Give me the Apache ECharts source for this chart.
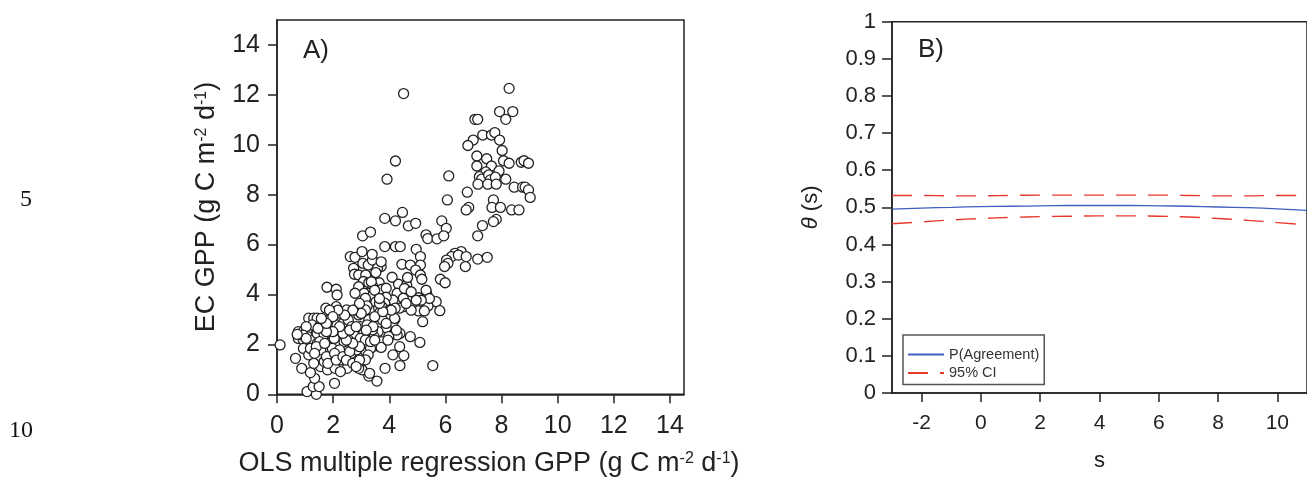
<!DOCTYPE html>
<html><head><meta charset="utf-8">
<script src="https://cdn.jsdelivr.net/npm/echarts@6/dist/echarts.min.js"></script>
<style>html,body{margin:0;padding:0;background:#fff}#c{width:1307px;height:477px}</style>
</head><body><div id="c"></div>
<script>
// Panel A: OLS multiple regression GPP (x) vs EC GPP (y)
const olsGPP = [
8.27,4.51,7.93,8.40,8.15,7.05,7.15,7.33,7.64,7.76,6.99,6.80,7.93,8.02,4.22,7.12,7.47,8.07,8.27,8.70,
8.80,8.96,7.12,7.64,7.44,7.91,7.21,7.29,7.54,7.60,7.78,8.15,7.16,7.51,7.81,8.45,8.75,8.84,8.96,9.02,
3.92,6.12,6.78,6.07,7.71,7.66,7.96,8.36,8.62,6.83,6.74,4.47,3.84,4.22,4.68,4.94,7.81,7.71,7.32,5.87,
6.03,5.31,5.37,5.70,5.94,7.15,3.05,3.33,3.84,4.22,4.39,4.96,6.56,6.34,6.22,6.46,6.04,6.09,6.74,6.71,
7.15,7.49,5.11,5.11,5.97,4.45,4.75,4.94,5.11,5.16,5.82,5.99,5.33,5.67,5.80,5.38,5.04,5.04,5.25,5.19,
4.75,5.09,5.55,4.52,4.13,4.38,3.85,3.56,3.27,3.03,
2.61,2.78,2.73,2.76,3.03,3.06,3.25,3.40,3.71,3.58,3.52,2.91,3.16,3.08,3.27,3.64,3.74,3.42,3.27,2.91,
3.10,2.78,3.89,4.10,4.33,4.62,4.65,4.60,4.28,4.50,4.13,3.89,3.84,3.74,3.40,3.52,3.62,3.15,3.21,4.50,
4.36,4.01,4.21,4.01,4.20,3.64,3.95,3.40,3.76,4.13,4.38,4.28,3.89,3.98,3.60,3.46,3.71,3.48,3.71,3.15,
3.33,3.25,
0.11,0.66,0.88,1.07,1.40,1.29,1.50,1.34,1.19,1.55,1.80,2.05,2.07,2.29,2.50,2.26,1.92,1.83,2.72,2.91,
3.15,2.87,2.64,0.76,0.93,1.07,0.76,0.94,1.09,1.29,1.13,1.31,1.43,1.25,1.50,1.68,1.78,2.11,2.14,2.11,
1.92,2.26,2.48,1.86,2.14,2.36,1.43,1.68,1.92,2.17,1.43,1.62,1.86,2.11,2.39,1.37,1.68,1.97,2.23,1.50,
1.56,2.54,2.66,2.42,2.72,2.54,2.72,2.91,2.84,2.97,3.09,2.97,2.91,3.15,3.27,2.78,3.21,3.40,3.15,3.33,
1.74,1.92,2.29,2.04,0.94,1.13,1.19,1.68,1.31,
1.04,0.93,1.04,1.52,1.40,1.70,1.34,1.76,2.05,1.81,2.11,2.35,2.59,2.47,2.70,2.94,2.82,3.30,2.94,2.70,
2.47,2.35,2.59,2.82,2.23,1.99,1.76,1.46,3.95,4.25,4.19,3.89,4.07,3.48,3.42,3.48,3.77,3.65,3.18,3.00,
2.94,2.70,2.41,2.17,1.87,1.99,1.76,1.58,0.72,3.39,3.71,3.36,3.48,3.65,4.54,4.78,5.31,5.43,5.14,4.96,
4.78,4.60,4.37
];
const ecGPP = [
12.26,12.05,11.33,11.33,11.02,11.02,11.02,10.39,10.39,10.49,10.19,9.97,10.19,9.77,9.35,9.55,9.44,9.36,9.26,9.30,
9.36,9.26,9.15,9.15,8.91,8.95,8.72,8.62,8.79,8.59,8.70,8.62,8.42,8.42,8.42,8.30,8.30,8.30,8.19,7.89,
8.62,8.75,8.10,7.79,7.79,7.49,7.49,7.39,7.39,7.49,7.39,7.29,7.05,6.95,6.75,6.85,7.01,6.92,6.76,6.95,
6.65,6.39,6.24,6.23,6.35,6.35,6.35,6.50,5.92,5.92,5.92,5.81,5.72,5.65,5.52,5.58,5.38,5.25,5.52,5.12,
5.42,5.49,5.52,5.18,5.12,5.21,5.18,4.98,4.78,4.61,4.61,4.47,4.05,3.71,3.35,3.54,3.87,3.34,3.34,2.91,
2.31,2.08,1.15,1.55,1.58,1.15,1.04,0.53,0.73,0.98,
5.52,5.49,5.05,4.81,5.72,5.25,5.18,5.38,5.12,5.05,4.88,4.78,4.78,4.52,4.47,4.47,4.21,4.31,4.05,4.31,
4.05,4.05,4.25,4.69,4.41,4.38,4.68,4.18,4.05,3.85,3.78,3.89,3.65,3.51,3.94,3.70,3.45,3.85,3.54,3.51,
3.45,3.38,3.45,3.11,3.01,3.25,3.18,3.05,2.98,2.71,2.44,2.38,2.67,2.31,2.51,2.31,2.11,1.94,1.88,1.64,
1.84,1.58,
1.98,1.44,1.04,0.11,0.00,0.31,0.31,0.64,0.87,1.11,0.98,0.44,1.04,1.38,1.04,0.91,1.58,1.31,1.31,1.04,
1.38,1.51,1.64,2.51,2.51,2.58,2.24,2.18,2.31,2.18,3.05,3.05,3.05,2.78,2.71,2.78,4.29,4.21,3.98,3.51,
3.11,3.25,3.38,2.85,2.78,2.85,2.44,2.38,2.44,2.44,2.04,1.98,2.04,2.11,2.11,1.71,1.71,1.84,1.78,1.44,
1.78,2.98,2.71,2.51,2.44,2.18,1.91,2.04,1.78,2.71,2.44,2.24,3.18,3.38,2.98,3.38,2.78,2.58,2.18,2.11,
3.45,3.31,2.58,2.24,1.84,1.58,1.84,1.31,1.24,
2.71,2.37,2.24,2.11,1.91,2.04,1.64,1.51,1.64,1.24,1.37,1.51,1.71,1.37,1.24,1.37,1.11,0.84,1.91,2.04,
2.17,2.44,2.57,2.71,2.71,2.51,2.51,2.64,2.17,2.57,3.04,2.84,3.37,2.17,2.71,3.11,3.31,3.64,2.57,3.24,
3.64,3.37,3.17,3.37,3.37,3.11,2.84,3.04,2.40,5.61,5.31,4.51,4.17,3.84,4.24,4.11,4.17,3.84,3.77,3.77,
3.37,3.64,1.91
];
const ticksA = [0, 2, 4, 6, 8, 10, 12, 14];

// Panel B: agreement probability vs s
const sValues = [-3, -2, -1, 0, 1, 2, 3, 4, 5, 6, 7, 8, 9, 10, 11];
const pAgreement = [0.495, 0.498, 0.500, 0.502, 0.503, 0.504, 0.505, 0.505, 0.505, 0.504, 0.503, 0.501, 0.499, 0.496, 0.492];
const ciUpper = [0.532, 0.532, 0.531, 0.531, 0.532, 0.533, 0.533, 0.533, 0.533, 0.533, 0.532, 0.531, 0.531, 0.532, 0.532];
const ciLower = [0.456, 0.461, 0.466, 0.470, 0.473, 0.475, 0.476, 0.477, 0.477, 0.476, 0.474, 0.470, 0.465, 0.459, 0.453];
const ticksBx = [-2, 0, 2, 4, 6, 8, 10];

const lineNumbers = [{ text: '5', x: 26, y: 200 }, { text: '10', x: 21, y: 431 }];

const FONT = '"Liberation Sans", Arial, sans-serif';
const INK = '#222';
const chart = echarts.init(document.getElementById('c'), null, { renderer: 'canvas' });

const axisCommon = (extra) => Object.assign({
  type: 'value',
  splitLine: { show: false },
  axisLine: { onZero: false, lineStyle: { color: INK, width: 1.5 } },
}, extra);

const supRich = (size, supSize) => ({
  t: { fontSize: size, fill: INK, fontFamily: FONT },
  s: { fontSize: supSize, fill: INK, fontFamily: FONT, verticalAlign: 'top' }
});

const option = {
  animation: false,
  backgroundColor: '#fff',
  textStyle: { fontFamily: FONT },
  grid: [
    { left: 277, top: 20, width: 407, height: 374.3, show: true, borderColor: INK, borderWidth: 1.5, backgroundColor: 'transparent' },
    { left: 892, top: 21.7, width: 420.4, height: 372.6, show: true, borderColor: INK, borderWidth: 1.5, backgroundColor: 'transparent' }
  ],
  xAxis: [
    axisCommon({
      gridIndex: 0, min: 0, max: 14.5,
      axisTick: { length: 9, customValues: ticksA, lineStyle: { color: INK, width: 1.5 } },
      axisLabel: { customValues: ticksA, fontSize: 25, color: INK, margin: 19, fontFamily: FONT }
    }),
    axisCommon({
      gridIndex: 1, min: -3, max: 11,
      axisTick: { length: 9, customValues: ticksBx, lineStyle: { color: INK, width: 1.5 } },
      axisLabel: { customValues: ticksBx, fontSize: 21, color: INK, margin: 20, fontFamily: FONT },
      name: 's', nameLocation: 'middle', nameGap: 57,
      nameTextStyle: { fontSize: 22, color: INK, fontFamily: FONT }
    })
  ],
  yAxis: [
    axisCommon({
      gridIndex: 0, min: 0, max: 15,
      axisTick: { length: 9, customValues: ticksA, lineStyle: { color: INK, width: 1.5 } },
      axisLabel: { customValues: ticksA, fontSize: 25, color: INK, margin: 17, fontFamily: FONT }
    }),
    axisCommon({
      gridIndex: 1, min: 0, max: 1, interval: 0.1,
      axisTick: { length: 10, lineStyle: { color: INK, width: 1.5 } },
      axisLabel: { fontSize: 22, color: INK, margin: 16, fontFamily: FONT },
      name: '{i|θ} (s)', nameLocation: 'middle', nameGap: 70, nameRotate: 90,
      nameTextStyle: { fontSize: 22, color: INK, fontFamily: FONT, rich: {
        i: { fontSize: 22, fontStyle: 'italic', color: INK, fontFamily: FONT }
      } }
    })
  ],
  legend: {
    left: 903, top: 335, orient: 'vertical',
    data: ['P(Agreement)', '95% CI'],
    itemWidth: 36, itemHeight: 14, itemGap: 3.5,
    padding: [12, 5, 4, 4],
    borderColor: '#555', borderWidth: 1.5, backgroundColor: '#fff',
    itemStyle: { opacity: 0, color: 'transparent', borderWidth: 0 },
    textStyle: { fontSize: 14.5, color: '#333', fontFamily: FONT },
    selectedMode: false
  },
  series: [
    {
      type: 'scatter', xAxisIndex: 0, yAxisIndex: 0,
      data: olsGPP.map((x, i) => [x, ecGPP[i]]),
      symbol: 'circle', symbolSize: 10,
      itemStyle: { color: '#fff', borderColor: '#222', borderWidth: 1.3, opacity: 1 },
      emphasis: { disabled: true }, silent: true
    },
    {
      name: 'P(Agreement)', type: 'line', xAxisIndex: 1, yAxisIndex: 1,
      data: sValues.map((s, i) => [s, pAgreement[i]]),
      smooth: true, symbol: 'none', color: '#3d5fbf',
      lineStyle: { color: '#3d5fbf', width: 1.3 }, silent: true
    },
    {
      name: '95% CI', type: 'line', xAxisIndex: 1, yAxisIndex: 1,
      data: sValues.map((s, i) => [s, ciUpper[i]]),
      smooth: true, symbol: 'none', color: '#e8392f',
      lineStyle: { color: '#e8392f', width: 1.4, type: [20, 12] }, silent: true
    },
    {
      name: '95% CI', type: 'line', xAxisIndex: 1, yAxisIndex: 1,
      data: sValues.map((s, i) => [s, ciLower[i]]),
      smooth: true, symbol: 'none', color: '#e8392f',
      lineStyle: { color: '#e8392f', width: 1.4, type: [20, 12] }, silent: true
    }
  ],
  graphic: [
    { type: 'text', left: 303, top: 38, style: { text: 'A)', fontSize: 26, fill: INK, fontFamily: FONT } },
    { type: 'text', left: 918, top: 37, style: { text: 'B)', fontSize: 26, fill: INK, fontFamily: FONT } },
    { type: 'text', x: 489, y: 464, silent: true,
      style: { text: '{t|OLS multiple regression GPP (g C m}{s|-2}{t| d}{s|-1}{t|)}', rich: supRich(27, 16),
               align: 'center', verticalAlign: 'middle' } },
    { type: 'text', x: 207, y: 207, rotation: Math.PI / 2, silent: true,
      style: { text: '{t|EC GPP (g C m}{s|-2}{t| d}{s|-1}{t|)}', rich: supRich(27, 16),
               align: 'center', verticalAlign: 'middle' } }
  ].concat(lineNumbers.map(n => ({
    type: 'text', x: n.x, y: n.y,
    style: { text: n.text, fontSize: 24, fill: '#111', fontFamily: '"Liberation Serif", "Times New Roman", serif', align: 'center', verticalAlign: 'middle' }
  })))
};
chart.setOption(option);
</script>
</body></html>
